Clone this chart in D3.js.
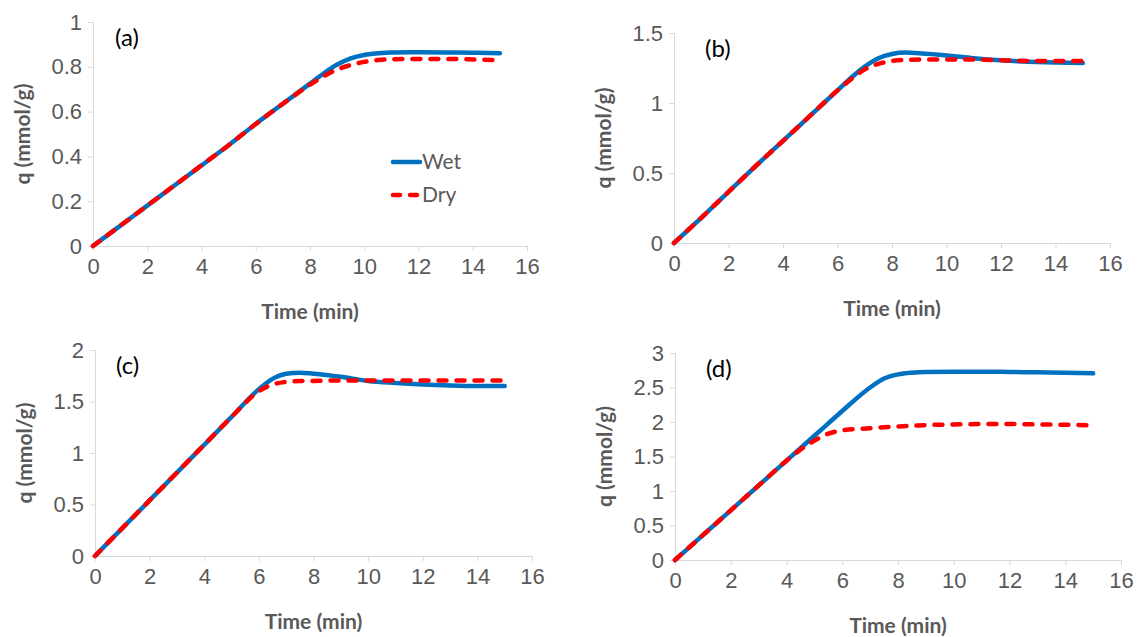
<!DOCTYPE html>
<html>
<head>
<meta charset="utf-8">
<script src="https://cdn.jsdelivr.net/npm/d3@7"></script>
<style>
  body { margin: 0; background: #fff; }
  svg { display: block; font-family: Lato, "Open Sans", sans-serif; }
</style>
</head>
<body>
<svg id="chart" width="1143" height="637"></svg>
<script>
// time points (min) for each panel
const timeA = [0, 1, 2, 3, 4, 5, 6, 7, 8, 8.5, 9, 9.5, 10, 10.5, 11, 12, 13, 14, 15];
const wetA  = [0, 0.09, 0.18, 0.27, 0.36, 0.45, 0.545, 0.635, 0.725, 0.77, 0.81, 0.838, 0.853, 0.86, 0.864, 0.865, 0.864, 0.863, 0.861];
const dryA  = [0, 0.09, 0.18, 0.27, 0.36, 0.45, 0.545, 0.635, 0.72, 0.758, 0.788, 0.808, 0.822, 0.83, 0.834, 0.835, 0.835, 0.833, 0.83];

const timeB = [0, 1, 2, 3, 4, 5, 6, 6.5, 7, 7.5, 8, 8.5, 9, 10, 11, 12, 13, 14, 15];
const wetB  = [0, 0.18, 0.365, 0.55, 0.73, 0.91, 1.09, 1.18, 1.26, 1.32, 1.35, 1.36, 1.355, 1.34, 1.32, 1.305, 1.295, 1.29, 1.285];
const dryB  = [0, 0.18, 0.365, 0.55, 0.73, 0.91, 1.09, 1.17, 1.24, 1.28, 1.3, 1.308, 1.31, 1.31, 1.31, 1.305, 1.3, 1.3, 1.3];

const timeC = [0, 1, 2, 3, 4, 5, 6, 6.5, 7, 7.5, 8, 9, 10, 11, 12, 13, 14, 15];
const wetC  = [0, 0.27, 0.54, 0.81, 1.08, 1.35, 1.62, 1.72, 1.77, 1.78, 1.77, 1.74, 1.7, 1.68, 1.665, 1.655, 1.65, 1.65];
const dryC  = [0, 0.27, 0.54, 0.81, 1.08, 1.35, 1.6, 1.665, 1.69, 1.698, 1.7, 1.705, 1.705, 1.705, 1.705, 1.705, 1.705, 1.705];

const timeD = [0, 1, 2, 3, 4, 4.5, 5, 5.5, 6, 7, 7.5, 8, 8.5, 9, 10, 11, 12, 13, 14, 15];
const wetD  = [0, 0.36, 0.72, 1.08, 1.44, 1.62, 1.8, 1.98, 2.16, 2.5, 2.63, 2.69, 2.715, 2.725, 2.73, 2.73, 2.725, 2.72, 2.715, 2.705];
const dryD  = [0, 0.36, 0.72, 1.08, 1.44, 1.6, 1.73, 1.83, 1.88, 1.91, 1.925, 1.935, 1.945, 1.955, 1.965, 1.97, 1.97, 1.965, 1.96, 1.95];

const panelLabels = ["(a)", "(b)", "(c)", "(d)"];
const xTicks = [0, 2, 4, 6, 8, 10, 12, 14, 16];
const yMaxes = [1, 1.5, 2, 3];
const yTicksA = [0, 0.2, 0.4, 0.6, 0.8, 1];
const yTicksB = [0, 0.5, 1, 1.5];
const yTicksC = [0, 0.5, 1, 1.5, 2];
const yTicksD = [0, 0.5, 1, 1.5, 2, 2.5, 3];
const seriesNames = ["Wet", "Dry"];

const blue = "#0070C0", red = "#FF0000";

const panels = [
  {time: timeA, wet: wetA, dry: dryA, yTicks: yTicksA, yMax: yMaxes[0], label: panelLabels[0],
   left: 93, right: 527, top: 22, bottom: 246, labelX: 115, legend: true},
  {time: timeB, wet: wetB, dry: dryB, yTicks: yTicksB, yMax: yMaxes[1], label: panelLabels[1],
   left: 674, right: 1110, top: 33, bottom: 243, labelX: 705},
  {time: timeC, wet: wetC, dry: dryC, yTicks: yTicksC, yMax: yMaxes[2], label: panelLabels[2],
   left: 95, right: 532, top: 350, bottom: 556, labelX: 116},
  {time: timeD, wet: wetD, dry: dryD, yTicks: yTicksD, yMax: yMaxes[3], label: panelLabels[3],
   left: 675, right: 1121, top: 353, bottom: 560, labelX: 706}
];

const svg = d3.select("#chart");
const fmt = d => String(+d.toFixed(1));

panels.forEach(p => {
  let x = d3.scaleLinear().domain([0, 16]).range([p.left, p.right]);
  let y = d3.scaleLinear().domain([0, p.yMax]).range([p.bottom, p.top]);
  let g = svg.append("g");

  // y axis
  let yAxis = g.append("g")
    .attr("transform", `translate(${p.left},0)`)
    .call(d3.axisLeft(y).tickValues(p.yTicks).tickFormat(fmt).tickSize(5).tickPadding(6));
  yAxis.select(".domain").attr("stroke", "#d9d9d9");
  yAxis.selectAll(".tick line").attr("stroke", "#d9d9d9");
  yAxis.selectAll(".tick text").attr("fill", "#595959").style("font-size", "22px");

  // x axis
  let xAxis = g.append("g")
    .attr("transform", `translate(0,${p.bottom})`)
    .call(d3.axisBottom(x).tickValues(xTicks).tickFormat(d3.format("d")).tickSize(5).tickPadding(7));
  xAxis.select(".domain").attr("stroke", "#d9d9d9");
  xAxis.selectAll(".tick line").attr("stroke", "#d9d9d9");
  xAxis.selectAll(".tick text").attr("fill", "#595959").style("font-size", "22px");

  // axis titles
  g.append("text")
    .attr("x", (p.left + p.right) / 2)
    .attr("y", p.bottom + 73)
    .attr("text-anchor", "middle")
    .attr("fill", "#595959")
    .style("font-size", "21px").style("font-weight", "bold")
    .text("Time (min)");
  g.append("text")
    .attr("transform", `translate(${p.left - 63},${(p.top + p.bottom) / 2}) rotate(-90)`)
    .attr("text-anchor", "middle")
    .attr("fill", "#595959")
    .style("font-size", "21px").style("font-weight", "bold")
    .text("q (mmol/g)");

  // panel label
  g.append("text")
    .attr("x", p.labelX)
    .attr("y", p.top + 24)
    .attr("fill", "#000")
    .style("font-size", "24px")
    .text(p.label);

  let line = d3.line()
    .x(d => x(d[0]))
    .y(d => y(d[1]))
    .curve(d3.curveMonotoneX);

  g.append("path")
    .datum(p.time.map((t, i) => [t, p.wet[i]]))
    .attr("d", line)
    .attr("fill", "none")
    .attr("stroke", blue)
    .attr("stroke-width", 4.5)
    .attr("stroke-linecap", "round");

  g.append("path")
    .datum(p.time.map((t, i) => [t, p.dry[i]]))
    .attr("d", line)
    .attr("fill", "none")
    .attr("stroke", red)
    .attr("stroke-width", 4.5)
    .attr("stroke-dasharray", "8,10")
    .attr("stroke-linecap", "round");

  if (p.legend) {
    let lg = g.append("g").attr("transform", "translate(393,162)");
    seriesNames.forEach((name, i) => {
      lg.append("line")
        .attr("x1", 0).attr("x2", 27)
        .attr("y1", i * 33).attr("y2", i * 33)
        .attr("stroke", i === 0 ? blue : red)
        .attr("stroke-width", 4.5)
        .attr("stroke-linecap", "round")
        .attr("stroke-dasharray", i === 0 ? null : "7,10");
      lg.append("text")
        .attr("x", 29).attr("y", i * 33 + 7)
        .attr("fill", "#595959")
        .style("font-size", "21px")
        .text(name);
    });
  }
});
</script>
</body>
</html>
